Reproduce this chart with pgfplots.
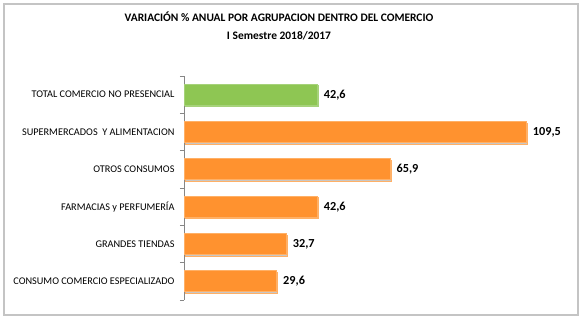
\documentclass[border=0pt]{standalone}
\usepackage{pgfplots}
\pgfplotsset{compat=1.18}
\usepackage{fontspec}
\setmainfont{Carlito}
\definecolor{barorange}{HTML}{FF922F}
\definecolor{baroredge}{HTML}{FFB066}
\definecolor{bargreen}{HTML}{8EC653}
\definecolor{bargredge}{HTML}{A6D27A}
\definecolor{framegray}{HTML}{C4C4C4}
\definecolor{axgray}{HTML}{868686}
\begin{document}
\begin{tikzpicture}
\path[use as bounding box, fill=white] (0,0) rectangle (583bp,326bp);
\draw[framegray, line width=1.6bp] (4bp,11bp) rectangle (578bp,322bp);
\node[font=\fontsize{11.5}{13}\selectfont\bfseries] at (279bp,309bp) {VARIACIÓN \% ANUAL POR AGRUPACION DENTRO DEL COMERCIO};
\node[font=\fontsize{11.5}{13}\selectfont\bfseries] at (279bp,290bp) {I Semestre 2018/2017};
\begin{axis}[
  at={(184bp,26bp)}, anchor=south west,
  scale only axis, width=375bp, height=224bp,
  xbar, bar shift=0pt, bar width=0.56,
  xmin=0, xmax=120,
  ymin=-0.5, ymax=5.5, y dir=reverse,
  axis x line=none,
  axis y line*=left,
  y axis line style={draw=axgray, line width=0.6bp},
  ytick={0,1,2,3,4,5},
  yticklabels={TOTAL COMERCIO NO PRESENCIAL, SUPERMERCADOS\ \ Y ALIMENTACION, OTROS CONSUMOS, FARMACIAS y PERFUMERÍA, GRANDES TIENDAS, CONSUMO COMERCIO ESPECIALIZADO},
  yticklabel style={font=\fontsize{10.3}{12}\selectfont, xshift=-6bp},
  major tick length=0pt,
  minor ytick={-0.5,0.5,...,5.5},
  minor tick length=4bp,
  tick align=outside,
  minor tick style={draw=axgray, line width=0.6bp},
  nodes near coords,
  nodes near coords style={font=\fontsize{12.3}{14}\selectfont\bfseries, anchor=west, xshift=3bp,
    /pgf/number format/.cd, use comma, fixed, fixed zerofill, precision=1, assume math mode=true},
  clip=false,
]
\addplot[fill=bargreen, draw=bargredge, line width=0.8bp,
  preaction={fill=black!22, transform canvas={xshift=1.2bp, yshift=-1.5bp}}]
  coordinates {(42.6,0)};
\addplot[fill=barorange, draw=baroredge, line width=0.8bp,
  preaction={fill=black!22, transform canvas={xshift=1.2bp, yshift=-1.5bp}}]
  coordinates {(109.5,1) (65.9,2) (42.6,3) (32.7,4) (29.6,5)};
\end{axis}
\end{tikzpicture}
\end{document}
